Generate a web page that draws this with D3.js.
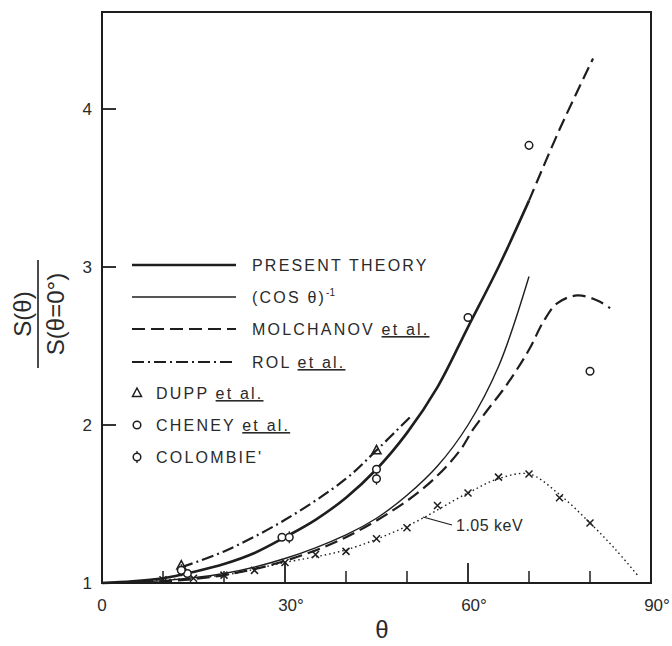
<!DOCTYPE html>
<html>
<head>
<meta charset="utf-8">
<script src="https://cdn.jsdelivr.net/npm/d3@7"></script>
<style>
  body { margin: 0; background: #fff; }
  svg text { font-family: "Liberation Sans", "DejaVu Sans", sans-serif; fill: #2a2a2a; }
</style>
</head>
<body>
<svg id="chart" width="672" height="646"></svg>
<script>
// curves (theta in degrees, S(theta)/S(0))
var theoryAngles = [0, 5, 10, 15, 20, 25, 30, 35, 40, 45, 50, 55, 60, 65, 70]
var theoryValues = [1.0, 1.01, 1.03, 1.07, 1.12, 1.19, 1.29, 1.40, 1.54, 1.72, 1.95, 2.24, 2.62, 3.0, 3.42]
var theoryExtAngles = [70, 75, 80.5]
var theoryExtValues = [3.42, 3.87, 4.32]

var cosAngles = [0, 10, 20, 30, 40, 45, 50, 55, 60, 65, 70]
var cosValues = [1.0, 1.015, 1.06, 1.155, 1.305, 1.41, 1.555, 1.74, 2.0, 2.37, 2.94]

var molAngles = [0, 10, 20, 30, 40, 50, 55, 58.7, 60.8, 63.1, 65.7, 68, 70.2, 72.3, 74.6, 77.9, 81.1, 83.3]
var molValues = [1.0, 1.01, 1.05, 1.14, 1.29, 1.52, 1.68, 1.84, 1.97, 2.09, 2.22, 2.35, 2.49, 2.65, 2.77, 2.82, 2.79, 2.74]

var rolAngles = [13, 20, 30, 40, 45, 50.5]
var rolValues = [1.10, 1.20, 1.40, 1.66, 1.84, 2.05]

// 1.05 keV calculation, crosses are the computed points
var kevAngles = [10, 15, 20, 25, 30, 35, 40, 45, 50, 55, 60, 65, 70, 75, 80]
var kevValues = [1.02, 1.03, 1.05, 1.08, 1.13, 1.18, 1.20, 1.28, 1.35, 1.49, 1.57, 1.67, 1.69, 1.54, 1.38]
var kevLineAngles = [0, 10, 20, 30, 40, 50, 60, 65, 70, 75, 80, 84, 88]
var kevLineValues = [1.0, 1.02, 1.05, 1.13, 1.21, 1.36, 1.57, 1.66, 1.69, 1.56, 1.38, 1.22, 1.04]

// measurements
var duppAngles = [13, 45]
var duppValues = [1.11, 1.84]
var cheneyAngles = [14, 29.5, 45, 60, 70, 80]
var cheneyValues = [1.06, 1.29, 1.72, 2.68, 3.77, 2.34]
var colombieAngles = [13, 30.7, 45]
var colombieValues = [1.08, 1.29, 1.66]

var xMajor = [0, 30, 60, 90]
var xMajorLabels = ["0", "30°", "60°", "90°"]
var xMinor = [10, 20, 40, 50, 70, 80]
var yTicks = [1, 2, 3, 4]

var ink = "#1e1e1e"
var svg = d3.select("#chart")

var x = d3.scaleLinear().domain([0, 90]).range([102, 651])
var y = d3.scaleLinear().domain([1, 4.614]).range([583, 12])

// frame
svg.append("rect")
  .attr("x", x(0)).attr("y", y(4.614))
  .attr("width", x(90) - x(0)).attr("height", y(1) - y(4.614))
  .attr("fill", "none").attr("stroke", ink).attr("stroke-width", 2)

// bottom ticks (inward) and labels
svg.selectAll(".xmaj").data(xMajor).enter().append("line")
  .attr("x1", d => x(d)).attr("x2", d => x(d))
  .attr("y1", y(1)).attr("y2", y(1) - 20)
  .attr("stroke", ink).attr("stroke-width", 1.8)
svg.selectAll(".xmin").data(xMinor).enter().append("line")
  .attr("x1", d => x(d)).attr("x2", d => x(d))
  .attr("y1", y(1)).attr("y2", y(1) - 12)
  .attr("stroke", ink).attr("stroke-width", 1.5)
svg.selectAll(".xlab").data(xMajor).enter().append("text")
  .attr("x", (d, i) => x(d) + (i == 0 ? 0 : 6))
  .attr("y", 611)
  .attr("text-anchor", "middle")
  .attr("font-size", 17)
  .text((d, i) => xMajorLabels[i])

// left ticks and labels
svg.selectAll(".ytk").data(yTicks).enter().append("line")
  .attr("x1", x(0)).attr("x2", x(0) + 14)
  .attr("y1", d => y(d)).attr("y2", d => y(d))
  .attr("stroke", ink).attr("stroke-width", 1.8)
svg.selectAll(".ylab").data(yTicks).enter().append("text")
  .attr("x", 92).attr("y", d => y(d) + 6)
  .attr("text-anchor", "end")
  .attr("font-size", 17)
  .text(d => d)

// axis titles
svg.append("text")
  .attr("x", 382).attr("y", 638)
  .attr("text-anchor", "middle").attr("font-size", 24)
  .text("θ")
var yt = svg.append("g").attr("transform", "translate(38,314) rotate(-90)")
yt.append("text").attr("x", 0).attr("y", -7).attr("text-anchor", "middle")
  .attr("font-size", 24).text("S(θ)")
yt.append("line").attr("x1", -54).attr("x2", 54).attr("y1", 0).attr("y2", 0)
  .attr("stroke", ink).attr("stroke-width", 1.6)
yt.append("text").attr("x", 0).attr("y", 26).attr("text-anchor", "middle")
  .attr("font-size", 24).text("S(θ=0°)")

// line styles
var styles = {
  theory: { w: 2.6, dash: null },
  cos: { w: 1.4, dash: null },
  mol: { w: 2.2, dash: "13,6" },
  rol: { w: 2.2, dash: "12,4,2,4" },
  kev: { w: 1.4, dash: "1.5,3" }
}

var line = d3.line().x(d => x(d[0])).y(d => y(d[1])).curve(d3.curveCatmullRom)

function drawCurve(angles, values, st) {
  svg.append("path")
    .datum(d3.zip(angles, values))
    .attr("d", line)
    .attr("fill", "none")
    .attr("stroke", ink)
    .attr("stroke-width", st.w)
    .attr("stroke-dasharray", st.dash)
}

drawCurve(theoryAngles, theoryValues, styles.theory)
drawCurve(theoryExtAngles, theoryExtValues, styles.mol)
drawCurve(cosAngles, cosValues, styles.cos)
drawCurve(molAngles, molValues, styles.mol)
drawCurve(rolAngles, rolValues, styles.rol)
drawCurve(kevLineAngles, kevLineValues, styles.kev)

// markers
function cross(g) {
  g.append("path").attr("d", "M-3.5,-3.5L3.5,3.5M-3.5,3.5L3.5,-3.5")
    .attr("stroke", ink).attr("stroke-width", 1.5)
}
function tri(g) {
  g.append("path").attr("d", "M0,-5L4.5,3.5L-4.5,3.5Z")
    .attr("fill", "none").attr("stroke", ink).attr("stroke-width", 1.5)
}
function circ(g) {
  g.append("circle").attr("r", 3.8)
    .attr("fill", "#fff").attr("stroke", ink).attr("stroke-width", 1.5)
}
function colo(g) {
  g.append("circle").attr("r", 3.8)
    .attr("fill", "#fff").attr("stroke", ink).attr("stroke-width", 1.5)
  g.append("path").attr("d", "M0,-6L0,-3.8M0,3.8L0,6")
    .attr("stroke", ink).attr("stroke-width", 1.3)
}

function drawMarks(angles, values, fn) {
  d3.zip(angles, values).forEach(function(d) {
    var g = svg.append("g").attr("transform", "translate(" + x(d[0]) + "," + y(d[1]) + ")")
    fn(g)
  })
}
drawMarks(kevAngles, kevValues, cross)
drawMarks(duppAngles, duppValues, tri)
drawMarks(cheneyAngles, cheneyValues, circ)
drawMarks(colombieAngles, colombieValues, colo)

// 1.05 keV label with leader
svg.append("line").attr("x1", 423).attr("y1", 517).attr("x2", 452).attr("y2", 525)
  .attr("stroke", ink).attr("stroke-width", 1.2)
svg.append("text").attr("x", 456).attr("y", 531).attr("font-size", 16)
  .attr("letter-spacing", 0.5).text("1.05 keV")

// legend
var lineLegend = [
  { key: "theory", y: 265, label: "PRESENT THEORY", etal: "" },
  { key: "cos", y: 297, label: "(COS θ)", sup: "-1", etal: "" },
  { key: "mol", y: 329, label: "MOLCHANOV ", etal: "et al." },
  { key: "rol", y: 362, label: "ROL ", etal: "et al." }
]
lineLegend.forEach(function(d) {
  var st = styles[d.key]
  svg.append("line").attr("x1", 132).attr("x2", 236).attr("y1", d.y).attr("y2", d.y)
    .attr("stroke", ink).attr("stroke-width", st.w).attr("stroke-dasharray", st.dash)
  var t = svg.append("text").attr("x", 252).attr("y", d.y + 6)
    .attr("font-size", 16).attr("letter-spacing", 2.2)
  t.append("tspan").text(d.label)
  if (d.sup) t.append("tspan").attr("dy", -7).attr("font-size", 10).attr("letter-spacing", 0).text(d.sup)
  if (d.etal) t.append("tspan").attr("text-decoration", "underline").text(d.etal)
})

var symLegend = [
  { fn: tri, y: 393, label: "DUPP ", etal: "et al." },
  { fn: circ, y: 425, label: "CHENEY ", etal: "et al." },
  { fn: colo, y: 457, label: "COLOMBIE'", etal: "" }
]
symLegend.forEach(function(d) {
  var g = svg.append("g").attr("transform", "translate(137," + d.y + ")")
  d.fn(g)
  var t = svg.append("text").attr("x", 156).attr("y", d.y + 6)
    .attr("font-size", 16).attr("letter-spacing", 2.2)
  t.append("tspan").text(d.label)
  if (d.etal) t.append("tspan").attr("text-decoration", "underline").text(d.etal)
})
</script>
</body>
</html>
